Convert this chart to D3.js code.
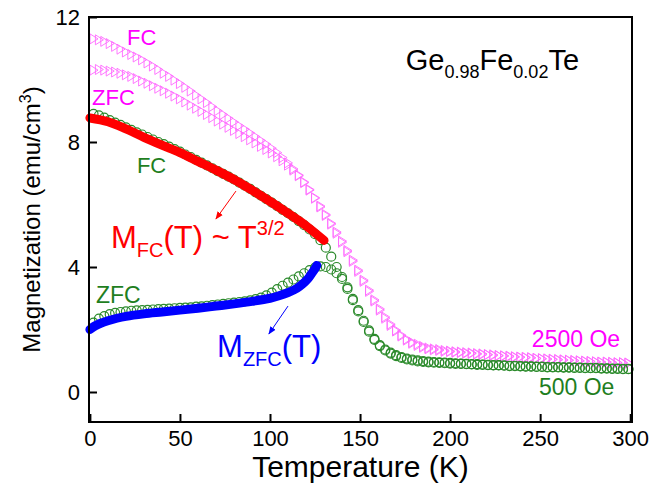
<!DOCTYPE html>
<html>
<head>
<meta charset="utf-8">
<script src="https://cdn.jsdelivr.net/npm/d3@7/dist/d3.min.js"></script>
<style>
  body { margin: 0; background: #fff; }
  text { font-family: "Liberation Sans", Arial, sans-serif; }
</style>
</head>
<body>
<svg id="chart" width="671" height="487"></svg>
<script>
// temperature grid of the measured points (K)
var temps = [
  2, 5, 8, 11, 14, 17, 20, 23, 26, 29,
  32, 35, 38, 41, 44, 47, 50, 53, 56, 59,
  62, 65, 68, 71, 74, 77, 80, 83, 86, 89,
  92, 95, 98, 101, 104, 107, 110, 113, 116, 119,
  122, 125, 128, 131, 134, 137, 140, 143, 146, 149,
  152, 155, 158, 161, 164, 167, 170, 173, 176, 179,
  182, 185, 188, 191, 194, 197, 200, 203, 206, 209,
  212, 215, 218, 221, 224, 227, 230, 233, 236, 239,
  242, 245, 248, 251, 254, 257, 260, 263, 266, 269,
  272, 275, 278, 281, 284, 287, 290, 293, 296, 299
];
// 2500 Oe, field cooled
var fcHigh = [
  11.3, 11.27, 11.22, 11.15, 11.06, 10.97, 10.88, 10.8, 10.72, 10.63,
  10.53, 10.43, 10.32, 10.2, 10.1, 9.98, 9.87, 9.75, 9.63, 9.5,
  9.38, 9.26, 9.13, 9.0, 8.88, 8.76, 8.64, 8.52, 8.41, 8.29,
  8.17, 8.05, 7.93, 7.8, 7.66, 7.5, 7.33, 7.14, 6.94, 6.72,
  6.48, 6.22, 5.95, 5.68, 5.4, 5.12, 4.83, 4.53, 4.22, 3.9,
  3.58, 3.26, 2.95, 2.66, 2.4, 2.17, 1.98, 1.82, 1.69, 1.59,
  1.53, 1.46, 1.41, 1.38, 1.36, 1.33, 1.31, 1.29, 1.28, 1.26,
  1.25, 1.23, 1.22, 1.2, 1.19, 1.17, 1.16, 1.15, 1.13, 1.12,
  1.11, 1.1, 1.08, 1.07, 1.06, 1.05, 1.04, 1.03, 1.02, 1.01,
  1.0, 0.99, 0.98, 0.97, 0.96, 0.96, 0.95, 0.94, 0.94, 0.93
];
// 2500 Oe, zero field cooled
var zfcHigh = [
  10.3, 10.32, 10.3, 10.27, 10.24, 10.2, 10.15, 10.1, 10.03, 9.95,
  9.88, 9.8, 9.72, 9.64, 9.56, 9.47, 9.38, 9.28, 9.18, 9.08,
  8.98, 8.88, 8.78, 8.67, 8.57, 8.47, 8.37, 8.27, 8.17, 8.07,
  7.97, 7.86, 7.76, 7.65, 7.53, 7.4, 7.26, 7.1, 6.92, 6.7,
  6.46, 6.2, 5.92, 5.65, 5.37, 5.08, 4.79, 4.49, 4.18, 3.86,
  3.54, 3.22, 2.91, 2.62, 2.36, 2.13, 1.95, 1.79, 1.66, 1.56,
  1.49, 1.43, 1.38, 1.35, 1.33, 1.3, 1.29, 1.27, 1.26, 1.24,
  1.23, 1.21, 1.2, 1.19, 1.17, 1.16, 1.15, 1.13, 1.12, 1.11,
  1.1, 1.09, 1.07, 1.06, 1.05, 1.04, 1.03, 1.02, 1.01, 1.0,
  0.99, 0.98, 0.97, 0.96, 0.95, 0.95, 0.94, 0.93, 0.93, 0.92
];
// 500 Oe, field cooled
var fcLow = [
  8.9, 8.85, 8.78, 8.7, 8.62, 8.55, 8.47, 8.39, 8.31, 8.24,
  8.16, 8.08, 8.0, 7.93, 7.85, 7.77, 7.69, 7.6, 7.52, 7.43,
  7.34, 7.25, 7.16, 7.07, 6.98, 6.89, 6.8, 6.7, 6.6, 6.5,
  6.39, 6.28, 6.17, 6.06, 5.95, 5.83, 5.72, 5.6, 5.47, 5.34,
  5.2, 5.05, 4.86, 4.62, 4.33, 4.0, 3.68, 3.35, 2.98, 2.62,
  2.28, 1.97, 1.7, 1.5, 1.36, 1.26, 1.18, 1.12, 1.07, 1.04,
  1.01, 0.99, 0.97, 0.96, 0.95, 0.94, 0.93, 0.92, 0.91, 0.9,
  0.89, 0.89, 0.88, 0.87, 0.86, 0.86, 0.85, 0.84, 0.84, 0.83,
  0.82, 0.82, 0.81, 0.81, 0.8, 0.8, 0.8, 0.79, 0.79, 0.78,
  0.78, 0.77, 0.77, 0.77, 0.76, 0.76, 0.75, 0.75, 0.74, 0.74
];
// 500 Oe, zero field cooled
var zfcLow = [
  2.22, 2.35, 2.43, 2.49, 2.53, 2.56, 2.58, 2.6, 2.61, 2.62,
  2.63, 2.64, 2.65, 2.66, 2.67, 2.68, 2.69, 2.7, 2.71, 2.73,
  2.74, 2.76, 2.78, 2.8, 2.82, 2.84, 2.86, 2.88, 2.9, 2.93,
  2.97, 3.02, 3.09, 3.18, 3.29, 3.4, 3.5, 3.6, 3.7, 3.8,
  3.9, 3.98, 4.02, 4.0, 3.92, 3.8, 3.62, 3.3, 2.94, 2.58,
  2.24, 1.93, 1.67, 1.47, 1.33, 1.23, 1.15, 1.09, 1.04, 1.01,
  0.98, 0.96, 0.95, 0.94, 0.93, 0.92, 0.91, 0.9, 0.9, 0.89,
  0.88, 0.87, 0.87, 0.86, 0.85, 0.85, 0.84, 0.83, 0.83, 0.82,
  0.81, 0.81, 0.8, 0.8, 0.79, 0.79, 0.79, 0.78, 0.78, 0.77,
  0.77, 0.76, 0.76, 0.76, 0.75, 0.75, 0.74, 0.74, 0.73, 0.73
];
// fits
var fitFcT = [0, 10, 20, 30, 40, 50, 60, 70, 80, 90, 100, 110, 120, 130];
var fitFcM = [8.77, 8.65, 8.42, 8.15, 7.9, 7.66, 7.38, 7.1, 6.8, 6.46, 6.1, 5.72, 5.32, 4.85];
var fitZfcT = [0, 3, 6, 10, 15, 20, 30, 40, 50, 60, 70, 80, 90, 100, 105, 110, 115, 118, 121, 123, 125, 126];
var fitZfcM = [2.0, 2.12, 2.2, 2.28, 2.36, 2.42, 2.5, 2.56, 2.62, 2.68, 2.75, 2.82, 2.9, 3.0, 3.08, 3.18, 3.32, 3.45, 3.62, 3.78, 3.95, 4.05];

var xTicks = [0, 50, 100, 150, 200, 250, 300];
var yTicks = [0, 4, 8, 12];

var magenta = "#ff00ff", triColor = "#ff6aff", green = "#1f7f1f", circColor = "#2b8a2b";

var svg = d3.select("#chart");
var x = d3.scaleLinear().domain([-0.5, 301]).range([89, 632]);
var y = d3.scaleLinear().domain([-0.96, 12]).range([422, 17]);

function pts(ts, ms) {
  return ts.map(function (t, i) { return { t: t, m: ms[i] }; });
}

// triangles (2500 Oe)
var tri = "M-3.5,-5L4.5,0L-3.5,5Z";
[fcHigh, zfcHigh].forEach(function (arr) {
  svg.append("g").selectAll("path")
    .data(pts(temps, arr))
    .enter().append("path")
    .attr("d", tri)
    .attr("transform", function (d) { return "translate(" + x(d.t) + "," + y(d.m) + ")"; })
    .attr("fill", "none")
    .attr("stroke", triColor)
    .attr("stroke-width", 0.9);
});

// circles (500 Oe)
[zfcLow, fcLow].forEach(function (arr) {
  svg.append("g").selectAll("circle")
    .data(pts(temps, arr))
    .enter().append("circle")
    .attr("cx", function (d) { return x(d.t); })
    .attr("cy", function (d) { return y(d.m); })
    .attr("r", 4.5)
    .attr("fill", "none")
    .attr("stroke", circColor)
    .attr("stroke-width", 1.2);
});

// fit lines
var line = d3.line()
  .x(function (d) { return x(d.t); })
  .y(function (d) { return y(d.m); })
  .curve(d3.curveCatmullRom);
svg.append("path").attr("d", line(pts(fitFcT, fitFcM)))
  .attr("fill", "none").attr("stroke", "#ff0000").attr("stroke-width", 9).attr("stroke-linecap", "round");
svg.append("path").attr("d", line(pts(fitZfcT, fitZfcM)))
  .attr("fill", "none").attr("stroke", "#0000ff").attr("stroke-width", 9).attr("stroke-linecap", "round");

// axes
var xAxis = svg.append("g")
  .attr("transform", "translate(0,422)")
  .call(d3.axisBottom(x).tickValues(xTicks).tickSizeInner(-8).tickSizeOuter(0).tickPadding(8));
var yAxis = svg.append("g")
  .attr("transform", "translate(89,0)")
  .call(d3.axisLeft(y).tickValues(yTicks).tickSizeInner(-8).tickSizeOuter(0).tickPadding(9));
[xAxis, yAxis].forEach(function (a) {
  a.select(".domain").remove();
  a.selectAll("line").attr("stroke", "#000").attr("stroke-width", 2);
  a.selectAll("text").attr("font-size", 22).attr("fill", "#000")
    .attr("font-family", "Liberation Sans, Arial, sans-serif");
});

// frame
svg.append("rect")
  .attr("x", x(-0.5)).attr("y", y(12))
  .attr("width", x(301) - x(-0.5)).attr("height", y(-0.96) - y(12))
  .attr("fill", "none").attr("stroke", "#000").attr("stroke-width", 2);

// axis titles
svg.append("text")
  .attr("x", (x(-0.5) + x(301)) / 2).attr("y", 477)
  .attr("text-anchor", "middle").attr("font-size", 30)
  .text("Temperature (K)");
var yt = svg.append("text")
  .attr("transform", "translate(40," + ((y(12) + y(-0.96)) / 2) + ") rotate(-90)")
  .attr("text-anchor", "middle").attr("font-size", 24);
yt.append("tspan").text("Magnetization (emu/cm");
yt.append("tspan").attr("font-size", 16).attr("dy", -9).text("3");
yt.append("tspan").attr("dy", 9).text(")");

// simple labels
var labels = [
  { t: 20.6, m: 11.1, s: "FC", c: magenta, f: 22 },
  { t: 1.2, m: 9.18, s: "ZFC", c: magenta, f: 22 },
  { t: 26.1, m: 7.0, s: "FC", c: green, f: 22 },
  { t: 3.4, m: 2.85, s: "ZFC", c: green, f: 23 },
  { t: 245.4, m: 1.44, s: "2500 Oe", c: magenta, f: 23 },
  { t: 249.3, m: -0.1, s: "500 Oe", c: green, f: 23 }
];
svg.append("g").selectAll("text")
  .data(labels).enter().append("text")
  .attr("x", function (d) { return x(d.t); })
  .attr("y", function (d) { return y(d.m); })
  .attr("fill", function (d) { return d.c; })
  .attr("font-size", function (d) { return d.f; })
  .text(function (d) { return d.s; });

// compound label
var ge = svg.append("text").attr("x", x(175.4)).attr("y", y(10.3)).attr("font-size", 29);
ge.append("tspan").text("Ge");
ge.append("tspan").attr("font-size", 18).attr("dy", 8).text("0.98");
ge.append("tspan").attr("dy", -8).text("Fe");
ge.append("tspan").attr("font-size", 18).attr("dy", 8).text("0.02");
ge.append("tspan").attr("dy", -8).text("Te");

// fit labels
var rl = svg.append("text").attr("x", x(11.7)).attr("y", y(4.6)).attr("font-size", 31).attr("fill", "#ff0000");
rl.append("tspan").text("M");
rl.append("tspan").attr("font-size", 20).attr("dy", 9).text("FC");
rl.append("tspan").attr("dy", -9).text("(T) ~ T");
rl.append("tspan").attr("font-size", 20).attr("dy", -13).text("3/2");

var bl = svg.append("text").attr("x", x(70.6)).attr("y", y(1.12)).attr("font-size", 31).attr("fill", "#0000ff");
bl.append("tspan").text("M");
bl.append("tspan").attr("font-size", 20).attr("dy", 9).text("ZFC");
bl.append("tspan").attr("dy", -9).text("(T)");

// arrows
var defs = svg.append("defs");
[["ar", "#ff0000"], ["ab", "#0000ff"]].forEach(function (a) {
  defs.append("marker").attr("id", a[0]).attr("viewBox", "0 0 10 10")
    .attr("refX", 9).attr("refY", 5).attr("markerWidth", 8).attr("markerHeight", 8)
    .attr("orient", "auto").attr("markerUnits", "userSpaceOnUse")
    .append("path").attr("d", "M0,1L10,5L0,9Z").attr("fill", a[1]);
});
var arrows = [
  { t1: 81.1, m1: 6.43, t2: 70.0, m2: 5.54, c: "#ff0000", id: "ar" },
  { t1: 110.0, m1: 2.75, t2: 99.4, m2: 1.86, c: "#0000ff", id: "ab" }
];
svg.append("g").selectAll("line").data(arrows).enter().append("line")
  .attr("x1", function (d) { return x(d.t1); })
  .attr("y1", function (d) { return y(d.m1); })
  .attr("x2", function (d) { return x(d.t2); })
  .attr("y2", function (d) { return y(d.m2); })
  .attr("stroke", function (d) { return d.c; })
  .attr("stroke-width", 1)
  .attr("marker-end", function (d) { return "url(#" + d.id + ")"; });
</script>
</body>
</html>
